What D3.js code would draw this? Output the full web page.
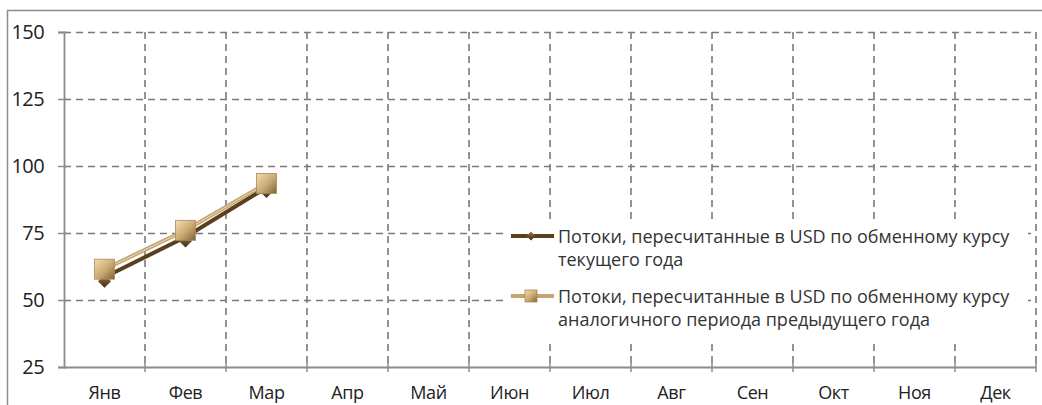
<!DOCTYPE html>
<html>
<head>
<meta charset="utf-8">
<script src="https://cdn.jsdelivr.net/npm/d3@7"></script>
<style>
  body { margin: 0; background: #fff; }
  svg { display: block; font-family: "Open Sans", sans-serif; }
</style>
</head>
<body>
<svg width="1042" height="405"></svg>
<script>
// data
const months = ["Янв","Фев","Мар","Апр","Май","Июн","Июл","Авг","Сен","Окт","Ноя","Дек"]
const currentRate = [58.5, 73.5, 92]
const previousRate = [61.5, 76, 93.5]
const yTicks = [25, 50, 75, 100, 125, 150]
const seriesNames = [
  ["Потоки, пересчитанные в USD по обменному курсу", "текущего года"],
  ["Потоки, пересчитанные в USD по обменному курсу", "аналогичного периода предыдущего года"]
]

const svg = d3.select("svg")
const plotL = 64, plotR = 1036, plotT = 32, plotB = 367

const x = d3.scaleBand().domain(months).range([plotL, plotR])
const y = d3.scaleLinear().domain([25, 150]).range([plotB, plotT])

// outer frame
svg.append("path")
  .attr("d", `M7.5,405 V10.5 H1042`)
  .attr("fill", "none").attr("stroke", "#8c8c8c").attr("stroke-width", 1.5)

// defs for marker gradients
const defs = svg.append("defs")
const g1 = defs.append("linearGradient").attr("id", "gDark").attr("x1", 0).attr("y1", 0).attr("x2", 0).attr("y2", 1)
g1.append("stop").attr("offset", "0%").attr("stop-color", "#a07a48")
g1.append("stop").attr("offset", "100%").attr("stop-color", "#3f2a10")
const g2 = defs.append("linearGradient").attr("id", "gLight").attr("x1", 0).attr("y1", 0).attr("x2", 1).attr("y2", 1)
g2.append("stop").attr("offset", "0%").attr("stop-color", "#f2dfb4")
g2.append("stop").attr("offset", "55%").attr("stop-color", "#c9a870")
g2.append("stop").attr("offset", "100%").attr("stop-color", "#7d6238")

// gridlines
const grid = svg.append("g").attr("stroke", "#7a7a7a").attr("stroke-width", 1.6).attr("stroke-dasharray", "7,5")
grid.selectAll(".h").data(yTicks.filter(d => d > 25)).enter().append("line")
  .attr("x1", plotL).attr("x2", plotR)
  .attr("y1", d => Math.round(y(d)) + 0.5).attr("y2", d => Math.round(y(d)) + 0.5)
grid.selectAll(".v").data(months).enter().append("line")
  .attr("x1", d => x(d) + x.bandwidth()).attr("x2", d => x(d) + x.bandwidth())
  .attr("y1", plotT).attr("y2", plotB)

// axes
const yAxis = svg.append("g").attr("transform", `translate(${plotL},0)`)
  .call(d3.axisLeft(y).tickValues(yTicks).tickSize(6).tickPadding(14))
const xAxis = svg.append("g").attr("transform", `translate(0,${plotB})`)
  .call(d3.axisBottom(x).tickSize(0).tickPadding(19))
xAxis.selectAll(".xt").data(months).enter().append("line")
  .attr("x1", d => x(d) + x.bandwidth()).attr("x2", d => x(d) + x.bandwidth())
  .attr("y1", -4).attr("y2", 5).attr("stroke", "#8c8c8c").attr("stroke-width", 1.5)
;[yAxis, xAxis].forEach(a => {
  a.attr("font-family", null).attr("font-size", null)
  a.select(".domain").attr("stroke", "#8c8c8c").attr("stroke-width", 1.8)
  a.selectAll(".tick line").attr("stroke", "#8c8c8c").attr("stroke-width", 1.5)
  a.selectAll("text").attr("fill", "#222").style("font-size", "18px").style("letter-spacing", "-0.4px")
})
yAxis.selectAll("text").style("font-size", "20px").style("letter-spacing", "-0.6px")
yAxis.selectAll(".tick line").attr("x1", 3)

// lines
const line = d3.line().x((d, i) => x(months[i]) + x.bandwidth() / 2).y(d => y(d))
svg.append("path").datum(currentRate).attr("d", line)
  .attr("fill", "none").attr("stroke", "#5b3f1c").attr("stroke-width", 4)
svg.append("path").datum(previousRate).attr("d", line)
  .attr("fill", "none").attr("stroke", "#c4a572").attr("stroke-width", 4)
svg.append("path").datum(previousRate).attr("d", line)
  .attr("fill", "none").attr("stroke", "#ead9b3").attr("stroke-width", 1)

// markers
svg.selectAll(".dia").data(currentRate).enter().append("path")
  .attr("d", d3.symbol(d3.symbolDiamond2, 110))
  .attr("transform", (d, i) => `translate(${x(months[i]) + x.bandwidth() / 2},${y(d) + 4})`)
  .attr("fill", "url(#gDark)")
svg.selectAll(".sq").data(previousRate).enter().append("rect")
  .attr("x", (d, i) => x(months[i]) + x.bandwidth() / 2 - 10)
  .attr("y", d => y(d) - 10)
  .attr("width", 20).attr("height", 20)
  .attr("fill", "url(#gLight)").attr("stroke", "#a88a58").attr("stroke-width", 0.8)

// legend
const lg = svg.append("g")
lg.append("rect").attr("x", 504).attr("y", 221).attr("width", 524).attr("height", 118).attr("fill", "#fff")
const rows = [
  { y: 236, color: "#5b3f1c", kind: "diamond", names: seriesNames[0] },
  { y: 296, color: "#c4a572", kind: "square", names: seriesNames[1] }
]
rows.forEach(r => {
  lg.append("line").attr("x1", 511).attr("x2", 554).attr("y1", r.y).attr("y2", r.y)
    .attr("stroke", r.color).attr("stroke-width", 4)
  if (r.kind === "diamond") {
    lg.append("path").attr("d", d3.symbol(d3.symbolDiamond2, 50))
      .attr("transform", `translate(531,${r.y})`).attr("fill", "url(#gDark)")
  } else {
    lg.append("rect").attr("x", 525).attr("y", r.y - 6).attr("width", 12).attr("height", 12)
      .attr("fill", "url(#gLight)").attr("stroke", "#a88a58").attr("stroke-width", 0.8)
  }
  const t = lg.append("text").attr("x", 558).attr("y", r.y + 7)
    .attr("fill", "#333").style("font-size", "18px").style("letter-spacing", "0px")
  r.names.forEach((n, i) => t.append("tspan").attr("x", 558).attr("dy", i ? 23 : 0).text(n))
})
</script>
</body>
</html>
